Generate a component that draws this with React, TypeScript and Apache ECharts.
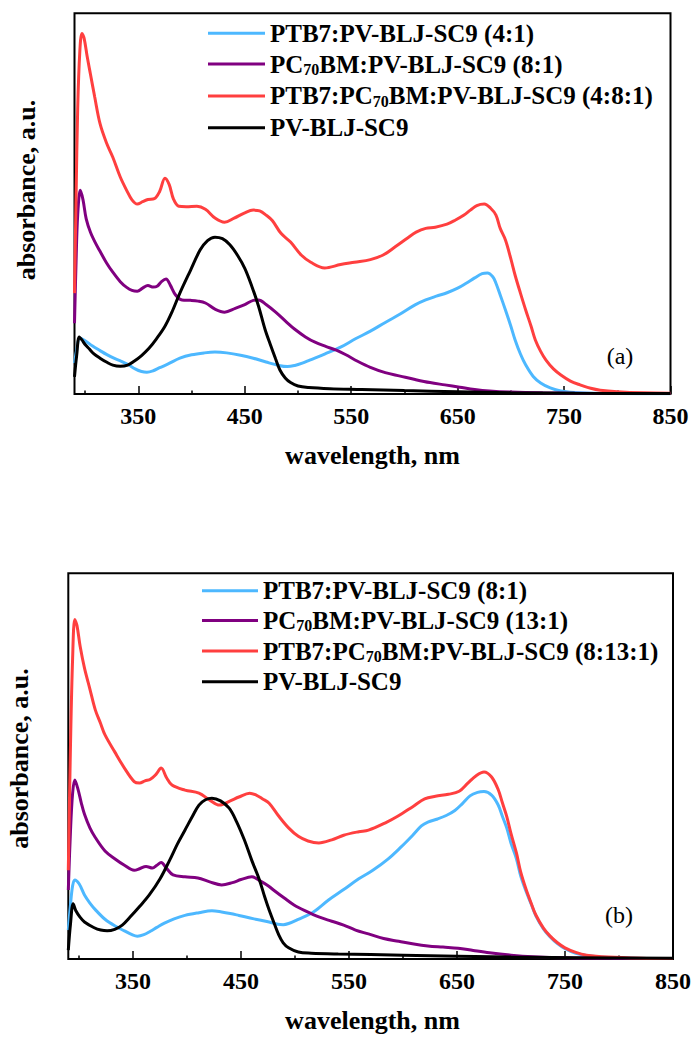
import React, { useEffect, useRef } from "react";
import * as echarts from "echarts";

// ---- names, colours, ticks ----
const NAMES_A = [
  "PTB7:PV-BLJ-SC9 (4:1)",
  "PC70BM:PV-BLJ-SC9 (8:1)",
  "PTB7:PC70BM:PV-BLJ-SC9 (4:8:1)",
  "PV-BLJ-SC9",
];
const NAMES_B = [
  "PTB7:PV-BLJ-SC9 (8:1)",
  "PC70BM:PV-BLJ-SC9 (13:1)",
  "PTB7:PC70BM:PV-BLJ-SC9 (8:13:1)",
  "PV-BLJ-SC9",
];
const COLORS = ["#4db8ff", "#800080", "#ff3f3f", "#000000"];
const X_MAJOR = [350, 450, 550, 650, 750, 850];
const X_MINOR = [300, 400, 500, 600, 700, 800];

// ---- panel (a) : [wavelength nm, absorbance a.u.] ----
const ptb7A = [[290,8.1],[292,11.5],[295,14.7],[300,14],[307,12.6],[314,11.4],[320,10.4],[327,9.4],[334,8.6],[340,7.8],[347,6.6],[353,5.9],[358,5.7],[364,6.1],[370,6.9],[378,7.9],[389,9.4],[400,10.3],[412,10.8],[422,11],[433,10.8],[446,10.2],[458,9.4],[470,8.4],[482,7.5],[490,7.2],[497,7.5],[504,8.1],[511,8.9],[525,10.5],[540,12.3],[554,14.5],[568,16.5],[582,18.8],[596,21],[610,23.4],[620,24.7],[630,25.7],[640,26.6],[650,27.8],[658,29.1],[666,30.5],[673,31.6],[678,31.8],[683,30.8],[686,29.1],[690,26],[695,22],[700,17.8],[704,14.2],[709,10.5],[714,7.6],[721,4.6],[728,2.9],[737,1.6],[747,0.8],[765,0.3],[800,0.1],[850,0.05]];
const pc70bmA = [[290,18.6],[291.5,35],[293,47],[295.5,53.5],[298,51],[301,46],[305,42.5],[310,39.5],[314,37.5],[320,34.5],[326,32],[333,29.5],[339,28],[344,27.2],[349,27],[354,27.8],[359,28.5],[364,28.1],[368,28.4],[372,29.6],[376,30.2],[380,28.6],[385,26],[391,24.7],[399,24.6],[406,24.4],[413,23.9],[422,22.3],[431,21.5],[441,22.5],[450,23.5],[458,24.6],[463,24.7],[470,23.5],[479,21.5],[488,19.2],[497,17],[507,15],[516,13.6],[526,12.5],[536,11.5],[545,10.3],[556,8.6],[568,7],[582,5.6],[596,4.7],[610,3.8],[624,3],[638,2.4],[652,1.8],[666,1.2],[680,0.8],[700,0.5],[730,0.3],[780,0.15],[850,0.1]];
const ternaryA = [[290,26.5],[291.5,52],[293,75],[295,90],[297,94.7],[299,93.5],[302,88.5],[305,84],[309,78],[314,71],[320,66],[326,62.2],[333,57],[339,53.5],[344,51],[349,49.9],[354,50.5],[359,51.1],[365,51.3],[370,53.2],[375,56.7],[379,55],[383,51.2],[388,49.3],[395,49.2],[405,49.3],[413,48.5],[422,46.2],[431,45.1],[440,46.2],[450,47.6],[458,48.3],[464,48.1],[470,47],[476,45.5],[484,42.2],[493,39.9],[503,36.5],[512,34.6],[525,33.1],[540,34],[553,34.6],[568,35.3],[580,36.5],[592,38.8],[603,41],[611,42.5],[620,43.5],[629,43.8],[640,44.6],[648,45.7],[656,47],[662,48.3],[668,49.5],[675,49.9],[681,48.8],[686,47],[690,43.5],[695,40.4],[700,35.5],[704,31.2],[709,26.5],[714,22],[719,17.8],[723,14.2],[728,11.2],[733,8.9],[740,6.6],[747,5],[756,3.4],[765,2.4],[775,1.5],[784,1],[800,0.6],[825,0.3],[850,0.2]];
const scA = [[290,4.5],[292,10],[294.5,15],[297,14.2],[300,13],[304,11.8],[308,10.6],[314,9.4],[320,8.4],[326,7.6],[333,7.3],[340,7.6],[346,8.6],[353,10.1],[360,12],[367,14.5],[375,17.8],[382,21.8],[389,26.5],[399,32.5],[408,37.8],[415,40.3],[422,41.2],[429,40.8],[436,39.2],[443,36.5],[450,33],[457,28],[463,23],[469,17],[474,13],[479,9.2],[483,6.3],[488,4.2],[493,3],[500,2.1],[510,1.7],[530,1.4],[560,1.2],[600,0.9],[650,0.6],[700,0.35],[760,0.2],[850,0.1]];

// ---- panel (b) ----
const ptb7B = [[290,7.5],[292,14],[294,19],[296,20.5],[300,19.5],[305,16.6],[310,14.5],[315,12.8],[324,10.3],[333,8.6],[342,7.3],[349,6.3],[354,5.9],[360,6.3],[366,7.2],[372,8.2],[379,9.3],[388,10.4],[398,11.3],[411,12],[423,12.5],[432,12.2],[440,11.8],[448,11.3],[462,10.4],[476,9.6],[484,9],[489,8.9],[494,9.2],[503,10.3],[517,12.2],[531,15.3],[545,18],[559,20.8],[572,23],[586,25.9],[598,29],[609,32.1],[617,34.5],[623,35.5],[632,36.3],[640,37.2],[648,38.5],[655,40.3],[662,42.3],[669,43.2],[675,43.4],[682,42.5],[688,40],[692,37],[696,34],[700,30],[705,26],[709,21.5],[714,17.5],[719,14],[723,11.2],[730,7.8],[736,5.8],[743,4],[750,2.7],[760,1.5],[770,0.9],[790,0.4],[820,0.15],[850,0.1]];
const pc70bmB = [[290,17.9],[292,33],[294,43],[296,46.4],[299,44],[302,40.5],[305,37.5],[310,34],[315,31.5],[324,28],[333,26],[342,24.3],[351,23],[356,23.4],[362,24],[368,23.6],[372,24.3],[376,25],[381,23.5],[387,21.8],[398,21.3],[410,21],[421,20],[432,19.2],[442,19.8],[450,20.6],[460,21.3],[468,20.2],[475,19],[480,17.9],[490,15.8],[499,14],[510,12.4],[522,10.9],[534,9.8],[545,8.8],[556,7.5],[568,6.5],[582,5.3],[596,4.6],[610,3.9],[623,3.4],[637,3.1],[651,2.8],[665,2.2],[680,1.6],[700,1],[720,0.6],[750,0.3],[800,0.15],[850,0.1]];
const ternaryB = [[290,23],[292,55],[294,78],[296,88],[298,86.5],[301,81],[305,75.4],[310,70],[315,64.6],[320,61],[324,58.1],[333,53.7],[342,49.5],[351,46],[356,45.6],[361,46.2],[366,46.6],[371,47.8],[376,49.5],[381,47],[386,45.1],[398,43.8],[411,43],[421,41.2],[430,39.9],[440,41],[448,42],[458,43],[464,42.5],[470,41.5],[476,40.4],[485,37],[494,34],[503,31.8],[512,30.6],[522,30.1],[534,30.9],[545,32.1],[559,33],[568,33.4],[585,35.5],[595,37],[609,39.5],[620,41.5],[630,42.2],[642,42.7],[652,43.5],[660,45.6],[668,47.6],[675,48.5],[682,47.2],[688,44],[692,40.5],[696,37],[700,32.5],[705,27.5],[709,22.5],[714,18],[719,14.2],[723,11.4],[730,8],[736,6],[743,4.2],[750,2.9],[760,1.7],[770,1],[790,0.5],[820,0.2],[850,0.1]];
const scB = [[290,2.3],[292,9],[294.5,14.3],[297,12.5],[301,10.8],[305,9.6],[314,8.1],[320,7.5],[326,7.3],[333,7.7],[340,8.8],[347,10.8],[356,13.6],[365,16.6],[375,20.8],[384,25.7],[391,29.8],[398,33.4],[405,37],[411,39.9],[417,41.3],[423,41.7],[431,41],[439,39.1],[446,35.5],[453,30.9],[460,25.5],[467,20.5],[472,16],[476,12.7],[481,9],[485,6.2],[489,4.2],[494,2.9],[503,1.8],[515,1.5],[540,1.3],[600,1],[700,0.5],[850,0.2]];

const DATA_A = [ptb7A, pc70bmA, ternaryA, scA];
const DATA_B = [ptb7B, pc70bmB, ternaryB, scB];

const FONT = "'Liberation Serif', 'Times New Roman', serif";

const richName = (name: string) =>
  name
    .split("PC70BM")
    .map((p) => (p ? `{t|${p}}` : ""))
    .join("{t|PC}{s|70}{t|BM}");

const legendRich = {
  t: { fontFamily: FONT, fontWeight: "bold", fontSize: 25, lineHeight: 27, color: "#000" },
  s: { fontFamily: FONT, fontWeight: "bold", fontSize: 16, lineHeight: 15, color: "#000", verticalAlign: "bottom" },
};

function xAxes(gridIndex: number) {
  return [
    {
      type: "value",
      gridIndex,
      min: 290,
      max: 850,
      position: "bottom",
      axisLine: { show: false },
      splitLine: { show: false },
      axisTick: { show: true, inside: true, length: 8, lineStyle: { color: "#000", width: 1.5 }, customValues: X_MAJOR },
      axisLabel: {
        show: true,
        customValues: X_MAJOR,
        margin: 10,
        color: "#000",
        fontFamily: FONT,
        fontWeight: "bold",
        fontSize: 24,
      },
    },
    {
      type: "value",
      gridIndex,
      min: 290,
      max: 850,
      position: "bottom",
      axisLine: { show: false },
      splitLine: { show: false },
      axisLabel: { show: false },
      axisTick: { show: true, inside: true, length: 3.5, lineStyle: { color: "#000", width: 1.5 }, customValues: X_MINOR },
    },
  ];
}

function yAxis(gridIndex: number) {
  return {
    type: "value",
    gridIndex,
    min: 0,
    max: 100,
    axisLine: { show: false },
    axisTick: { show: false },
    axisLabel: { show: false },
    splitLine: { show: false },
  };
}

function makeSeries(names: string[], data: number[][][], xIdx: number, yIdx: number) {
  return names.map((name, i) => ({
    name,
    type: "line",
    xAxisIndex: xIdx,
    yAxisIndex: yIdx,
    data: data[i],
    showSymbol: false,
    symbol: "none",
    smooth: 0.35,
    color: COLORS[i],
    lineStyle: { color: COLORS[i], width: 3 },
    z: 2 + i,
  }));
}

function legend(names: string[], left: number, top: number, width: number, gap: number) {
  return {
    data: names,
    orient: "vertical",
    left,
    top,
    padding: 0,
    itemGap: gap,
    itemWidth: width,
    itemHeight: 3,
    icon: "rect",
    selectedMode: false,
    formatter: (n: string) => richName(n),
    textStyle: { fontFamily: FONT, fontWeight: "bold", fontSize: 25, color: "#000", rich: legendRich },
  };
}

const txt = (text: string, x: number, y: number, opts: any = {}) => ({
  type: "text",
  x,
  y,
  rotation: opts.rotation || 0,
  style: {
    text,
    fill: "#000",
    font: `${opts.weight || "bold"} ${opts.size || 26}px ${FONT}`,
    align: "center",
    verticalAlign: "middle",
  },
});

export default function App() {
  const ref = useRef<HTMLDivElement>(null);
  useEffect(() => {
    if (!ref.current) return;
    const chart = echarts.init(ref.current, null, { renderer: "svg" });
    chart.setOption({
      animation: false,
      backgroundColor: "#fff",
      grid: [
        { left: 74.5, width: 596, top: 13.3, height: 380.7, show: true, borderColor: "#000", borderWidth: 2, backgroundColor: "transparent" },
        { left: 68.3, width: 608.4, top: 573.3, height: 385.7, show: true, borderColor: "#000", borderWidth: 2, backgroundColor: "transparent" },
      ],
      xAxis: [...xAxes(0), ...xAxes(1)],
      yAxis: [yAxis(0), yAxis(1)],
      legend: [legend(NAMES_A, 208, 20.8, 57, 5.8), legend(NAMES_B, 202, 578.2, 56, 4.7)],
      series: [...makeSeries(NAMES_A, DATA_A, 0, 0), ...makeSeries(NAMES_B, DATA_B, 2, 1)],
      graphic: [
        txt("wavelength, nm", 372.5, 455.5),
        txt("wavelength, nm", 372.5, 1020.5),
        txt("absorbance, a.u.", 26.5, 190, { rotation: Math.PI / 2 }),
        txt("absorbance, a.u.", 19.2, 758.5, { rotation: Math.PI / 2 }),
        txt("(a)", 620, 356, { weight: "normal", size: 24 }),
        txt("(b)", 619, 915, { weight: "normal", size: 24 }),
      ],
    });
    return () => chart.dispose();
  }, []);
  return (
    <div
      ref={ref}
      style={{ position: "fixed", left: 0, top: 0, width: 694, height: 1039, background: "#fff" }}
    />
  );
}
